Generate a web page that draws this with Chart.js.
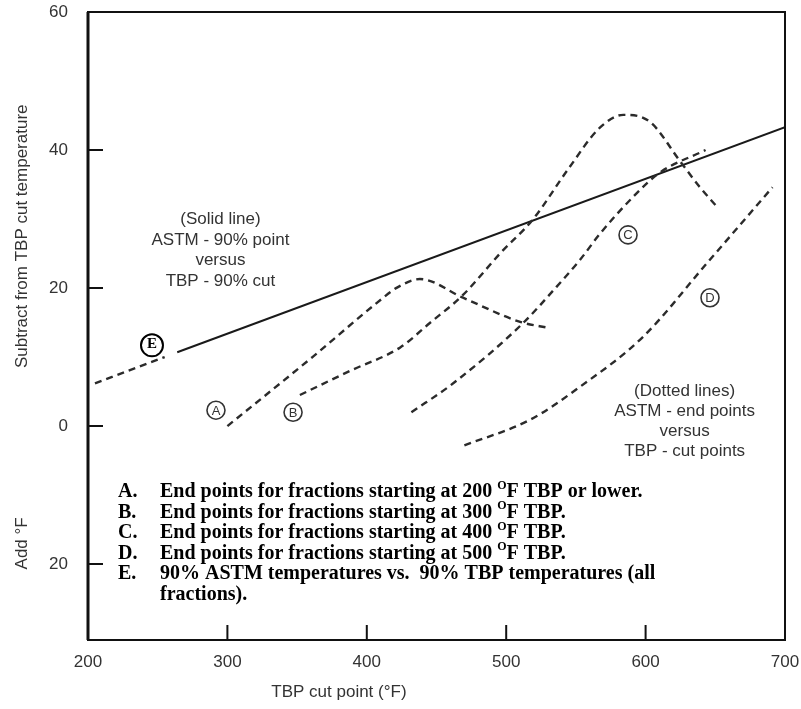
<!DOCTYPE html>
<html>
<head>
<meta charset="utf-8">
<title>ASTM vs TBP cut point</title>
<script src="https://cdn.jsdelivr.net/npm/chart.js@4.4.0/dist/chart.umd.min.js"></script>
<style>
  body { margin: 0; background: #fff; }
  canvas { display: block; }
</style>
</head>
<body>
<canvas id="grafico" width="801" height="709"></canvas>
<script>
// Curve A - end points, fractions starting at 200 F or lower
let curvaAx = [300, 361, 410, 422, 438, 469, 510, 531];
let curvaAy = [0, 10, 18.3, 20.1, 21.3, 18.6, 15.1, 14.2];

// Curve B - starting at 300 F
let curvaBx = [352, 388, 424, 445, 469, 496, 519, 544, 567, 584, 603, 625, 639, 652];
let curvaBy = [4.5, 8.0, 11.4, 14.9, 19.0, 25.1, 29.9, 37.1, 43.2, 45.1, 44.1, 38.3, 34.6, 31.6];

// Curve C - starting at 400 F
let curvaCx = [432, 462, 512, 534, 553, 567, 591, 610, 643];
let curvaCy = [2.0, 6.2, 14.9, 19.7, 24.1, 27.8, 33.2, 36.7, 40.0];

// Curve D - starting at 500 F
let curvaDx = [470, 517, 553, 598, 644, 691];
let curvaDy = [-2.8, 0.9, 5.7, 12.9, 23.6, 34.6];

// Curve E - 90% ASTM vs 90% TBP (dashed start, then solid)
let curvaEpuntosX = [205, 255];
let curvaEpuntosY = [6.2, 10.0];
let curvaEx = [264, 700];
let curvaEy = [10.7, 43.3];

// Ticks
let ticksX = [200, 300, 400, 500, 600, 700];
let ticksY = [-20, 0, 20, 40, 60];

// Circled labels on the curves
let etiquetas = ['A', 'B', 'C', 'D', 'E'];
let etiquetasX = [291.8, 347.1, 587.4, 646.2, 245.9];
let etiquetasY = [2.3, 2.0, 27.7, 18.6, 11.7];

// Notes inside the plot
let notaSolida = ['(Solid line)', 'ASTM - 90% point', 'versus', 'TBP - 90% cut'];
let notaPunteada = ['(Dotted lines)', 'ASTM - end points', 'versus', 'TBP - cut points'];

// Key text, ^O marks the superscript
let claveLetras = ['A.', 'B.', 'C.', 'D.', 'E.', ''];
let claveTexto = [
  'End points for fractions starting at 200 ^OF TBP or lower.',
  'End points for fractions starting at 300 ^OF TBP.',
  'End points for fractions starting at 400 ^OF TBP.',
  'End points for fractions starting at 500 ^OF TBP.',
  '90% ASTM temperatures vs.  90% TBP temperatures (all',
  'fractions).'
];

let sans = '"Liberation Sans", Arial, sans-serif';
let serif = '"Liberation Serif", "Times New Roman", serif';

function puntos(xs, ys) {
  return xs.map(function(x, i) { return { x: x, y: ys[i] }; });
}

function curvaPunteada(xs, ys) {
  return {
    data: puntos(xs, ys),
    borderColor: '#2b2b2b',
    borderWidth: 2.4,
    borderDash: [7, 5],
    cubicInterpolationMode: 'monotone',
    pointRadius: 0,
    fill: false
  };
}

// text with a small raised "O" where ^O appears
function textoSup(ctx, str, x, y, size) {
  let partes = str.split('^O');
  for (let i = 0; i < partes.length; i++) {
    ctx.font = 'bold ' + size + 'px ' + serif;
    ctx.fillText(partes[i], x, y);
    x += ctx.measureText(partes[i]).width;
    if (i < partes.length - 1) {
      ctx.font = 'bold ' + Math.round(size * 0.62) + 'px ' + serif;
      ctx.fillText('O', x, y - size * 0.42);
      x += ctx.measureText('O').width;
    }
  }
}

// frame, inner tick marks and all the notes
const notas = {
  id: 'notas',
  afterDraw(chart) {
    let ctx = chart.ctx;
    let a = chart.chartArea;
    let sx = chart.scales.x;
    let sy = chart.scales.y;
    ctx.save();

    // frame
    ctx.strokeStyle = '#111';
    ctx.lineWidth = 2;
    ctx.strokeRect(a.left, a.top, a.right - a.left, a.bottom - a.top);
    ctx.lineWidth = 3;
    ctx.beginPath();
    ctx.moveTo(a.left, a.top);
    ctx.lineTo(a.left, a.bottom);
    ctx.stroke();

    // tick marks pointing into the plot
    ctx.lineWidth = 2;
    ctx.beginPath();
    ticksY.forEach(function(v) {
      if (v >= 60) return;
      let py = sy.getPixelForValue(v);
      ctx.moveTo(a.left, py);
      ctx.lineTo(a.left + 15, py);
    });
    ticksX.forEach(function(v) {
      if (v <= 200 || v >= 700) return;
      let px = sx.getPixelForValue(v);
      ctx.moveTo(px, a.bottom);
      ctx.lineTo(px, a.bottom - 15);
    });
    ctx.stroke();

    // axis titles
    ctx.fillStyle = '#333';
    ctx.font = '17px ' + sans;
    ctx.textAlign = 'center';
    ctx.textBaseline = 'middle';
    ctx.save();
    ctx.translate(22, sy.getPixelForValue(27.5));
    ctx.rotate(-Math.PI / 2);
    ctx.fillText('Subtract from TBP cut temperature', 0, 0);
    ctx.restore();
    ctx.save();
    ctx.translate(22, sy.getPixelForValue(-17));
    ctx.rotate(-Math.PI / 2);
    ctx.fillText('Add \u00B0F', 0, 0);
    ctx.restore();
    ctx.fillText('TBP cut point (\u00B0F)', sx.getPixelForValue(380), 692);

    // notes
    let nx = sx.getPixelForValue(295);
    let ny = sy.getPixelForValue(29.9);
    notaSolida.forEach(function(t, i) { ctx.fillText(t, nx, ny + i * 20.5); });
    nx = sx.getPixelForValue(628);
    ny = sy.getPixelForValue(5.0);
    notaPunteada.forEach(function(t, i) { ctx.fillText(t, nx, ny + i * 20); });

    // circled letters
    etiquetas.forEach(function(l, i) {
      let px = sx.getPixelForValue(etiquetasX[i]);
      let py = sy.getPixelForValue(etiquetasY[i]);
      ctx.beginPath();
      if (l === 'E') {
        ctx.strokeStyle = '#000';
        ctx.fillStyle = '#000';
        ctx.lineWidth = 2;
        ctx.arc(px, py, 11, 0, Math.PI * 2);
        ctx.stroke();
        ctx.font = 'bold 15px ' + serif;
        ctx.fillText(l, px, py - 1);
      } else {
        ctx.strokeStyle = '#333';
        ctx.fillStyle = '#333';
        ctx.lineWidth = 1.6;
        ctx.arc(px, py, 9, 0, Math.PI * 2);
        ctx.stroke();
        ctx.font = '13px ' + sans;
        ctx.fillText(l, px, py + 1);
      }
    });

    // key
    ctx.fillStyle = '#000';
    ctx.textAlign = 'left';
    ctx.textBaseline = 'alphabetic';
    claveLetras.forEach(function(l, i) {
      let py = 497 + i * 20.6;
      ctx.font = 'bold 20px ' + serif;
      ctx.fillText(l, 118, py);
      textoSup(ctx, claveTexto[i], 160, py, 20);
    });

    ctx.restore();
  }
};

let datos = [
  curvaPunteada(curvaAx, curvaAy),
  curvaPunteada(curvaBx, curvaBy),
  curvaPunteada(curvaCx, curvaCy),
  curvaPunteada(curvaDx, curvaDy),
  curvaPunteada(curvaEpuntosX, curvaEpuntosY),
  {
    data: puntos(curvaEx, curvaEy),
    borderColor: '#1a1a1a',
    borderWidth: 2,
    pointRadius: 0,
    fill: false
  }
];

let graf = document.getElementById('grafico').getContext('2d');
let grafico = new Chart(graf, {
  type: 'line',
  data: { datasets: datos },
  options: {
    responsive: false,
    animation: false,
    layout: { padding: { top: 12, right: 16, left: 0, bottom: 0 } },
    plugins: {
      legend: { display: false },
      tooltip: { enabled: false }
    },
    scales: {
      x: {
        type: 'linear',
        min: 200,
        max: 700,
        grid: { display: false, drawTicks: false },
        border: { display: false },
        afterBuildTicks: function(s) { s.ticks = ticksX.map(function(v) { return { value: v }; }); },
        afterFit: function(s) {
          s.height = 69;
          s.paddingLeft = 0;
          s.paddingRight = 0;
        },
        ticks: { padding: 12, color: '#333', font: { family: sans, size: 17 } }
      },
      y: {
        type: 'linear',
        min: -31,
        max: 60,
        grid: { display: false, drawTicks: false },
        border: { display: false },
        afterBuildTicks: function(s) { s.ticks = ticksY.map(function(v) { return { value: v }; }); },
        afterFit: function(s) {
          s.width = 88;
          s.paddingTop = 0;
          s.paddingBottom = 0;
        },
        ticks: {
          padding: 20,
          color: '#333',
          font: { family: sans, size: 17 },
          callback: function(v) { return Math.abs(v); }
        }
      }
    }
  },
  plugins: [notas]
});
</script>
</body>
</html>
